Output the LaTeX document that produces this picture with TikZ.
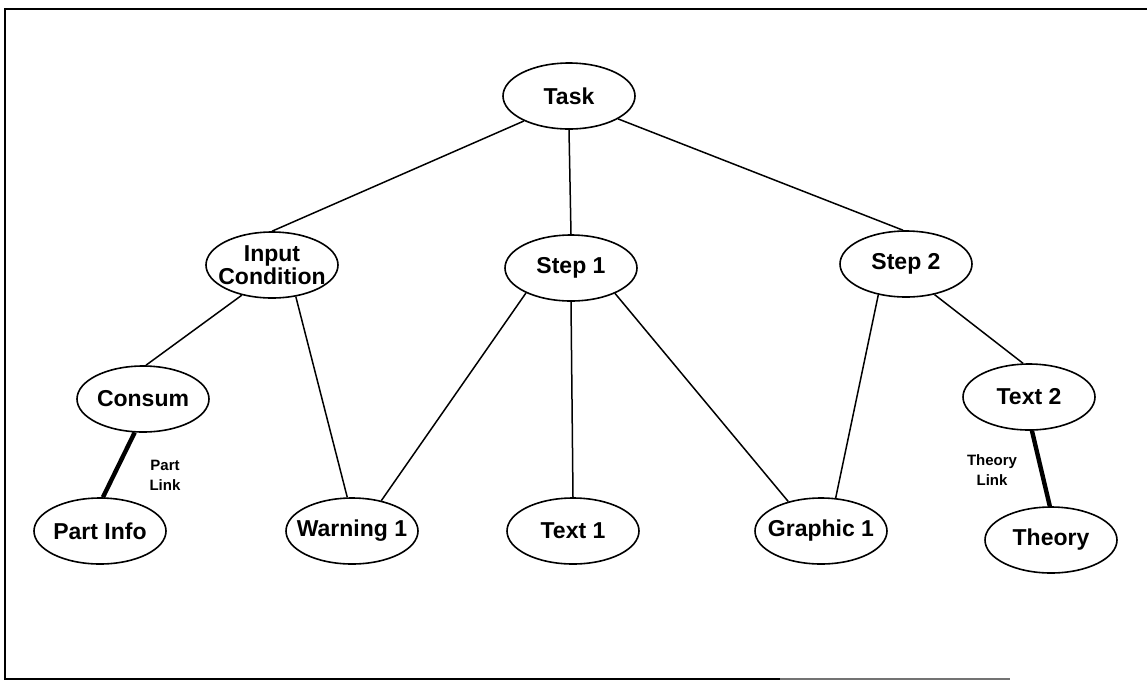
\documentclass[tikz,border=0pt]{standalone}
\usepackage{fontspec}
\setmainfont{Liberation Sans}
\usetikzlibrary{shapes.geometric}
% zero-width box so the ellipse size is set by the minimum dimensions only
\newcommand\fixw[1]{\makebox[0pt]{#1}}

\begin{document}
\begin{tikzpicture}[x=0.5pt,y=-0.5pt,
  topic/.style={ellipse, draw, line width=0.8pt, minimum width=66pt,
    minimum height=33pt, inner sep=0pt, align=center,
    font=\fontsize{11.5}{10}\selectfont\bfseries},
  link/.style={line width=0.75pt},
  heavy/.style={line width=2.2pt},
  tag/.style={font=\fontsize{7.5}{10}\selectfont\bfseries, align=center,
    inner sep=0pt}]

\useasboundingbox (0,0) rectangle (1147,682);

% frame (open on the right, bottom rule fading out)
\draw[line width=1.3pt] (1147,9) -- (5,9) -- (5,679) -- (780,679);
\draw[line width=1.1pt, black!55] (780,679) -- (1010,679);

% nodes
\node[topic] (task)     at (569,96)   {\fixw{Task}};
\node[topic] (input)    at (272,265)  {\fixw{Input}\\\fixw{Condition}};
\node[topic] (step1)    at (571,268)  {\fixw{Step 1}};
\node[topic] (step2)    at (906,264)  {\fixw{Step 2}};
\node[topic] (consum)   at (143,399)  {\fixw{Consum}};
\node[topic] (text2)    at (1029,397) {\fixw{Text 2}};
\node[topic] (partinfo) at (100,531)  {\fixw{Part Info}};
\node[topic] (warning)  at (352,531)  {\fixw{Warning 1}};
\node[topic] (text1)    at (573,531)  {\fixw{Text 1}};
\node[topic] (graphic)  at (821,531)  {\fixw{Graphic 1}};
\node[topic] (theory)   at (1051,540) {\fixw{Theory}};

\node[tag] (partlink)   at (165,475) {Part\\Link};
\node[tag] (theorylink) at (992,470) {Theory\\Link};

% connectors
\draw[link] (task.-151)  -- (input.90);
\draw[link] (task.-90)   -- (step1.90);
\draw[link] (task.-25)   -- (step2.95);
\draw[link] (input.-135) -- (consum.85);
\draw[link] (input.-53)  -- (warning.98);
\draw[link] (step1.-151) -- (warning.46);
\draw[link] (step1.-90)  -- (text1.90);
\draw[link] (step1.-30)  -- (graphic.138);
\draw[link] (step2.-132) -- (graphic.66);
\draw[link] (step2.-47)  -- (text2.100);
\draw[heavy] (consum.-104) -- (partinfo.85);
\draw[heavy] (text2.-85)   -- (theory.92);
\end{tikzpicture}
\end{document}
